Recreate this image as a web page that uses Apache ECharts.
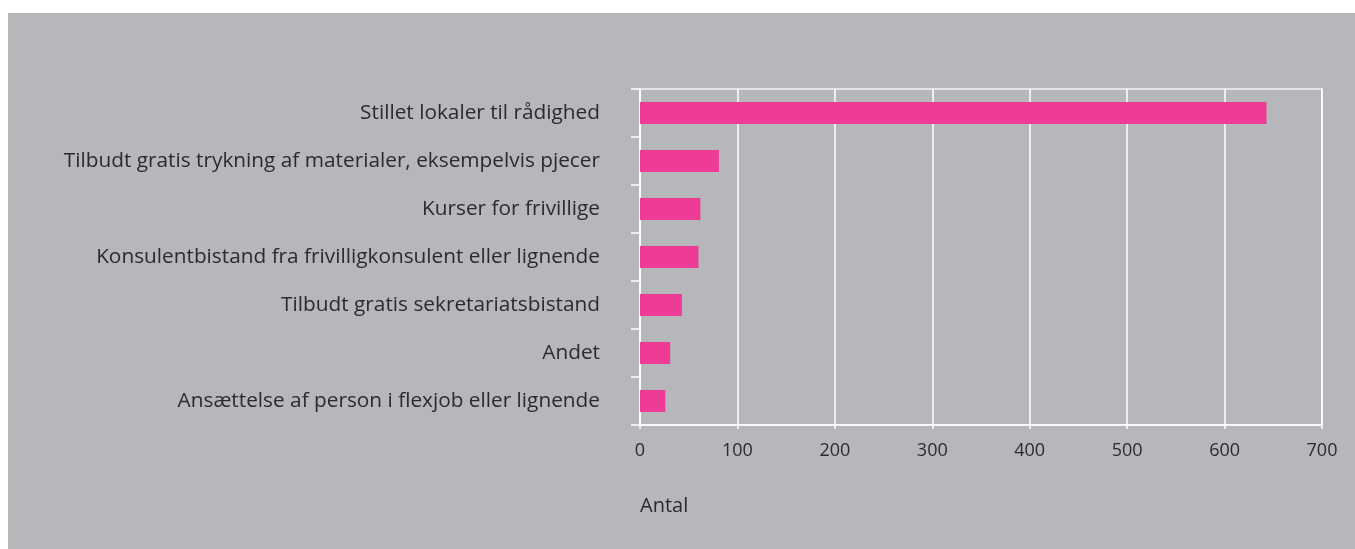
<!DOCTYPE html>
<html lang="da">

<head>
    <meta charset="UTF-8">
    <title>Antal</title>
    <script src="https://cdn.jsdelivr.net/npm/echarts@6/dist/echarts.min.js"></script>
    <style>
        body { margin: 0; background: #fff; }
        #main { position: absolute; left: 8px; top: 13px; width: 1347px; height: 536px; background: #b6b7ba; }
    </style>
</head>

<body>
    <div id="main"></div>
    <script type="text/javascript">
        // kategorier, nederst først (ECharts tegner kategori-aksen nedefra)
        var categories = [
            'Ansættelse af person i flexjob eller lignende',
            'Andet',
            'Tilbudt gratis sekretariatsbistand',
            'Konsulentbistand fra frivilligkonsulent eller lignende',
            'Kurser for frivillige',
            'Tilbudt gratis trykning af materialer, eksempelvis pjecer',
            'Stillet lokaler til rådighed'
        ];
        var values = [26, 31, 43, 60, 62, 81, 643];
        var xTicks = [0, 100, 200, 300, 400, 500, 600, 700];

        var font = '"Open Sans", sans-serif';
        var myChart = echarts.init(document.getElementById('main'));

        var option = {
            animation: false,
            grid: {
                left: 632,
                right: 33,
                top: 76,
                bottom: 124,
                show: true,
                borderColor: '#f4f4f4',
                borderWidth: 1.5,
                backgroundColor: 'transparent'
            },
            xAxis: {
                type: 'value',
                min: xTicks[0],
                max: xTicks[xTicks.length - 1],
                interval: 100,
                axisLine: { show: true, lineStyle: { color: '#fff', width: 1.5 } },
                axisTick: { show: true, length: 4, lineStyle: { color: '#fff', width: 1.5 } },
                splitLine: { show: true, lineStyle: { color: '#fff', width: 1.5 } },
                axisLabel: { color: '#2b2b2b', fontSize: 18, fontFamily: font, margin: 17 }
            },
            yAxis: {
                type: 'category',
                data: categories,
                axisLine: { show: true, lineStyle: { color: '#fff', width: 1.5 } },
                axisTick: { show: true, length: 9, lineStyle: { color: '#fff', width: 1.5 } },
                axisLabel: { color: '#2b2b2b', fontSize: 20.8, fontFamily: font, margin: 40 }
            },
            graphic: [{
                type: 'text',
                left: 632,
                top: 483,
                style: { text: 'Antal', fill: '#2b2b2b', font: '20px ' + font }
            }],
            series: [{
                type: 'bar',
                data: values,
                barWidth: 22,
                itemStyle: { color: '#ee3b96' }
            }]
        };

        myChart.setOption(option);
    </script>
</body>

</html>
